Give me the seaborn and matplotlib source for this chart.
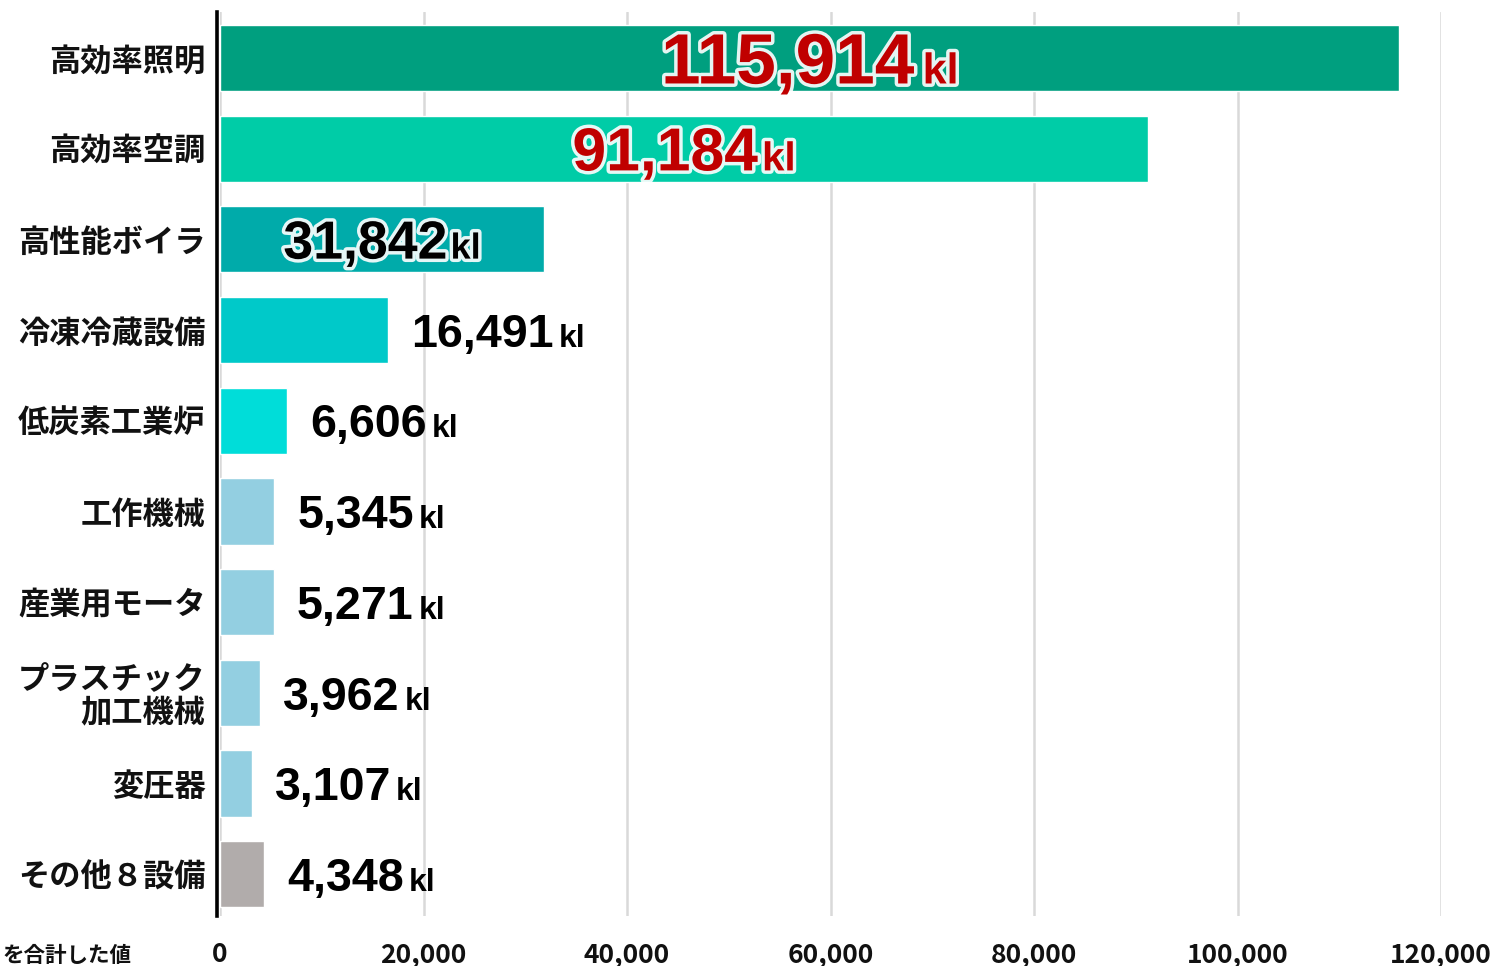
import matplotlib
matplotlib.use('Agg')
import matplotlib.pyplot as plt
import seaborn as sns
import pandas as pd
from matplotlib import font_manager as fm
import matplotlib.patheffects as pe

# ---------------- data ----------------
categories = ['高効率照明', '高効率空調', '高性能ボイラ', '冷凍冷蔵設備', '低炭素工業炉',
              '工作機械', '産業用モータ', 'プラスチック\n加工機械', '変圧器', 'その他８設備']
values = [115914, 91184, 31842, 16491, 6606, 5345, 5271, 3962, 3107, 4348]
unit = 'kl'
bar_colors = ['#009F7F', '#00CCA7', '#00ABAA', '#00C9C9', '#00DDD9',
              '#93CFE1', '#93CFE1', '#93CFE1', '#93CFE1', '#B1ACAB']
x_ticks = [0, 20000, 40000, 60000, 80000, 100000, 120000]
x_tick_labels = ['0', '20,000', '40,000', '60,000', '80,000', '100,000', '120,000']
note = 'を合計した値'

# label styles (inside bars for the top three)
inside = [True, True, True, False, False, False, False, False, False, False]
num_colors = ['#C00000', '#C00000', 'black'] + ['black'] * 7
glow = [True, True, True] + [False] * 7

# ---------------- fonts ----------------
sns.set_theme(style='white')
names = {f.name for f in fm.fontManager.ttflist}
narrow = 'Liberation Sans Narrow' in names
num_family = 'Liberation Sans Narrow' if narrow else 'Liberation Sans'
scale = 1.0 if narrow else 0.84
num_sizes = [61, 52, 46] + [40] * 7
kl_sizes = [31, 29, 26] + [23] * 7
gaps_px = [8, 4, 3] + [5] * 7
cjk = ['Noto Sans CJK JP', 'DejaVu Sans']
plt.rcParams['font.family'] = cjk

W, H = 1496, 966
fig = plt.figure(figsize=(W / 100, H / 100), dpi=100)
ax = fig.add_axes([220 / W, 1 - 916 / H, (1441 - 220) / W, (916 - 12) / H])

df = pd.DataFrame({'category': categories, 'value': values})
sns.barplot(data=df, x='value', y='category', hue='category', palette=bar_colors,
            orient='h', width=0.73, saturation=1, legend=False, ax=ax, zorder=2)

for s in ['top', 'right', 'bottom']:
    ax.spines[s].set_visible(False)
ax.spines['left'].set_position(('outward', 2.5))
ax.spines['left'].set_color('black')
ax.spines['left'].set_linewidth(2.6)
ax.spines['left'].set_zorder(5)

ax.set_xlim(0, 120000)
ax.set_ylim(9.46, -0.507)
ax.set_yticks(range(len(categories)))
ax.set_yticklabels(categories, fontsize=22.5, fontweight='bold', color='#111111',
                   linespacing=1.05)
ax.set_xticks(x_ticks)
ax.set_xticklabels(x_tick_labels, fontsize=19, fontweight='bold', color='#111111')
ax.tick_params(axis='x', length=0, pad=18)
ax.tick_params(axis='y', length=0, pad=8)
ax.set_xlabel('')
ax.set_ylabel('')
ax.xaxis.grid(True, color='#D9D9D9', lw=1.8, zorder=0)
ax.yaxis.grid(False)
ax.set_axisbelow(True)

fig.text(131 / W, 1 - 955 / H, note, ha='right', va='center', fontsize=15.5,
         fontweight='bold', color='#111111')

# ---------------- value labels ----------------
items = []
for i, v in enumerate(values):
    eff = [pe.withStroke(linewidth=5, foreground='white', alpha=0.9)] if glow[i] else []
    t1 = fig.text(0, 0, f'{v:,}', fontsize=num_sizes[i] * scale, fontweight='bold',
                  family=[num_family, 'DejaVu Sans'], color=num_colors[i],
                  ha='left', va='baseline', path_effects=eff, zorder=6)
    t2 = fig.text(0, 0, unit, fontsize=kl_sizes[i], fontweight='bold',
                  family=['Liberation Sans', 'DejaVu Sans'], color=num_colors[i],
                  ha='left', va='baseline', path_effects=eff, zorder=6)
    items.append((t1, t2))

fig.canvas.draw()
r = fig.canvas.get_renderer()
for i, (v, (t1, t2)) in enumerate(zip(values, items)):
    w1 = t1.get_window_extent(r).width
    w2 = t2.get_window_extent(r).width
    total = w1 + gaps_px[i] + w2
    if inside[i]:
        cx = ax.transData.transform((v / 2, i))[0]
        x0 = cx - total / 2
    else:
        x0 = ax.transData.transform((v, i))[0] + 23
    cy = ax.transData.transform((0, i))[1]
    cap_px = 0.716 * num_sizes[i] * scale * 100 / 72
    base = cy - cap_px / 2
    t1.set_position((x0 / W, base / H))
    t2.set_position(((x0 + w1 + gaps_px[i]) / W, base / H))

fig.savefig('out.png', dpi=100)
